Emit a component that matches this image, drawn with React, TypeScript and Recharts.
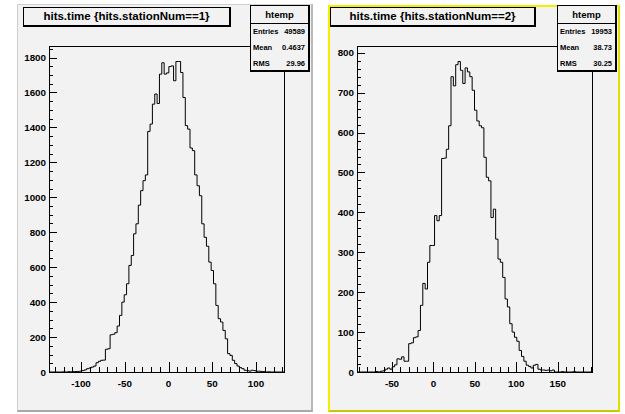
import React from 'react'
import { LineChart, Line, XAxis, YAxis } from 'recharts'

// hits.time, 100 bins each, counts
const station1Counts = [
  0, 0, 0, 0, 0, 0, 1, 0, 2, 1,
  2, 3, 3, 5, 8, 12, 19, 23, 28, 34,
  53, 61, 67, 68, 130, 133, 213, 216, 225, 263,
  324, 400, 442, 505, 610, 667, 791, 848, 955, 1038,
  1095, 1128, 1377, 1419, 1533, 1591, 1537, 1705, 1770, 1705,
  1712, 1748, 1752, 1667, 1777, 1777, 1714, 1571, 1410, 1390,
  1282, 1267, 1128, 1066, 1009, 848, 771, 720, 629, 581,
  505, 381, 305, 286, 238, 190, 105, 95, 67, 48,
  34, 25, 19, 10, 8, 5, 10, 8, 4, 5,
  3, 2, 0, 1, 0, 0, 0, 0, 0, 0,
]

const station2Counts = [
  0, 0, 0, 0, 0, 0, 0, 0, 1, 0,
  2, 3, 7, 10, 7, 13, 18, 33, 32, 38,
  27, 27, 71, 73, 86, 88, 104, 167, 222, 208,
  275, 317, 317, 392, 379, 392, 535, 536, 558, 617,
  740, 717, 770, 778, 756, 723, 762, 752, 740, 706,
  656, 629, 617, 612, 538, 488, 479, 387, 408, 333,
  283, 275, 237, 183, 163, 121, 100, 87, 77, 54,
  39, 27, 17, 14, 10, 17, 19, 7, 5, 5,
  4, 5, 3, 5, 0, 0, 0, 1, 0, 0,
  0, 0, 1, 0, 0, 0, 0, 0, 0, 0,
]

const station1Range = [-136.6, 132.0]
const station2Range = [-92.2, 191.4]

const station1XMajor = [-100, -50, 0, 50, 100]
const station2XMajor = [-50, 0, 50, 100, 150]
const station1YMajor = [0, 200, 400, 600, 800, 1000, 1200, 1400, 1600, 1800]
const station2YMajor = [0, 100, 200, 300, 400, 500, 600, 700, 800]

const FONT = '"Liberation Sans", Arial, Helvetica, sans-serif'

const steps = (from: number, to: number, step: number) => {
  const out: number[] = []
  for (let v = from; v <= to; v += step) out.push(v)
  return out
}

const toSteps = (counts: number[], range: number[]) => {
  const w = (range[1] - range[0]) / counts.length
  const pts = counts.map((c, i) => ({ x: range[0] + i * w, y: c }))
  pts.push({ x: range[1], y: counts[counts.length - 1] })
  return pts
}

const XTick = ({ x, y, payload, majors }: any) => {
  const major = majors.includes(payload.value)
  const px = Math.round(x) + 0.5
  const py = Math.round(y)
  return (
    <g>
      <line x1={px} x2={px} y1={py} y2={py - (major ? 10 : 5)} stroke="#000" strokeWidth={1} />
      {major && (
        <text x={x} y={y + 15} textAnchor="middle" fontSize={9.8} fontWeight="bold" fontFamily={FONT} fill="#000">
          {payload.value}
        </text>
      )}
    </g>
  )
}

const YTick = ({ x, y, payload, majors }: any) => {
  const major = majors.includes(payload.value)
  const px = Math.round(x)
  const py = Math.round(y) + 0.5
  return (
    <g>
      <line x1={px} x2={px + (major ? 8 : 4)} y1={py} y2={py} stroke="#000" strokeWidth={1} />
      {major && (
        <text x={x - 3} y={y} dy="0.36em" textAnchor="end" fontSize={9.8} fontWeight="bold" fontFamily={FONT} fill="#000">
          {payload.value}
        </text>
      )}
    </g>
  )
}

interface PadProps {
  counts: number[]
  range: number[]
  xMajor: number[]
  xMinor: number[]
  yMajor: number[]
  yMinor: number[]
  box: { left: number; top: number; width: number; height: number }
  frame: { left: number; top: number; right: number; bottom: number }
  selected?: boolean
  title: string
  titleBox: { left: number; width: number }
  stats: string[][]
  statsLeft: number
}

function Pad(p: PadProps) {
  const data = toSteps(p.counts, p.range)
  const ymax = Math.max(...p.counts) * 1.05
  const xTicks = Array.from(new Set([...p.xMinor, ...p.xMajor])).sort((a, b) => a - b)
  const yTicks = Array.from(new Set([...p.yMinor, ...p.yMajor]))
    .filter((v) => v <= ymax)
    .sort((a, b) => a - b)

  return (
    <>
      <div
        style={{
          position: 'absolute',
          boxSizing: 'border-box',
          ...p.box,
          background: '#f2f2f2',
          border: p.selected ? '2px solid #f0f000' : '1px solid #cfcfcf',
          borderBottom: p.selected ? '2px solid #c8c800' : '2px solid #a8a8a8',
          borderRight: p.selected ? '2px solid #e0e000' : '2px solid #b8b8b8',
        }}
      />
      {/* axis frame */}
      <div
        style={{
          position: 'absolute',
          boxSizing: 'border-box',
          left: p.box.left + p.frame.left,
          top: p.box.top + p.frame.top,
          width: p.box.width - p.frame.left - p.frame.right + 1,
          height: p.box.height - p.frame.top - p.frame.bottom + 1,
          border: '1px solid #000',
        }}
      />
      <div style={{ position: 'absolute', left: p.box.left, top: p.box.top }}>
        <LineChart
          width={p.box.width}
          height={p.box.height}
          data={data}
          margin={{ top: p.frame.top, right: p.frame.right, bottom: 0, left: 0 }}
        >
          <XAxis
            type="number"
            dataKey="x"
            domain={p.range}
            allowDataOverflow
            ticks={xTicks}
            interval={0}
            tickSize={0}
            tickMargin={0}
            axisLine={false}
            tickLine={false}
            height={p.frame.bottom}
            tick={(t: any) => <XTick {...t} majors={p.xMajor} />}
          />
          <YAxis
            type="number"
            domain={[0, ymax]}
            allowDataOverflow
            ticks={yTicks}
            interval={0}
            tickSize={0}
            tickMargin={0}
            axisLine={false}
            tickLine={false}
            width={p.frame.left}
            tick={(t: any) => <YTick {...t} majors={p.yMajor} />}
          />
          <Line
            type="stepAfter"
            dataKey="y"
            stroke="#000"
            strokeWidth={1}
            dot={false}
            isAnimationActive={false}
          />
        </LineChart>
      </div>
      <div
        style={{
          position: 'absolute',
          left: p.titleBox.left,
          top: 7,
          width: p.titleBox.width,
          height: 20,
          boxSizing: 'border-box',
          background: '#f2f2f2',
          border: '1px solid #000',
          borderRight: '2px solid #000',
          borderBottom: '2px solid #000',
          fontFamily: FONT,
          fontWeight: 'bold',
          fontSize: 11.5,
          lineHeight: '17px',
          textAlign: 'center',
          color: '#000',
        }}
      >
        {p.title}
      </div>
      <div
        style={{
          position: 'absolute',
          left: p.statsLeft,
          top: 5,
          width: 60,
          height: 67,
          boxSizing: 'border-box',
          background: '#f2f2f2',
          border: '1px solid #000',
          borderRight: '2px solid #000',
          borderBottom: '2px solid #000',
          fontFamily: FONT,
          fontWeight: 'bold',
          color: '#000',
        }}
      >
        <div style={{ height: 17, lineHeight: '17px', fontSize: 9.5, textAlign: 'center', borderBottom: '1px solid #000' }}>
          htemp
        </div>
        {p.stats.map(([k, v]) => (
          <div
            key={k}
            style={{
              height: 16,
              lineHeight: '16px',
              fontSize: 7.5,
              display: 'flex',
              justifyContent: 'space-between',
              padding: '0 3px 0 2px',
            }}
          >
            <span>{k}</span>
            <span>{v}</span>
          </div>
        ))}
      </div>
    </>
  )
}

export default function App() {
  return (
    <div
      style={{
        position: 'absolute',
        left: 0,
        top: 0,
        width: 625,
        height: 414,
        background: '#ffffff',
        overflow: 'hidden',
      }}
    >
      <Pad
        counts={station1Counts}
        range={station1Range}
        xMajor={station1XMajor}
        xMinor={steps(-130, 130, 10)}
        yMajor={station1YMajor}
        yMinor={steps(0, 1850, 50)}
        box={{ left: 17, top: 4, width: 296, height: 408 }}
        frame={{ left: 32, top: 42, right: 29, bottom: 40 }}
        title="hits.time {hits.stationNum==1}"
        titleBox={{ left: 23, width: 208 }}
        stats={[
          ['Entries', '49589'],
          ['Mean', '0.4637'],
          ['RMS', '29.96'],
        ]}
        statsLeft={250}
      />
      <Pad
        counts={station2Counts}
        range={station2Range}
        xMajor={station2XMajor}
        xMinor={steps(-90, 190, 10)}
        yMajor={station2YMajor}
        yMinor={steps(0, 800, 20)}
        box={{ left: 328, top: 5, width: 292, height: 407 }}
        frame={{ left: 29, top: 41, right: 28, bottom: 40 }}
        selected
        title="hits.time {hits.stationNum==2}"
        titleBox={{ left: 330, width: 206 }}
        stats={[
          ['Entries', '19953'],
          ['Mean', '38.73'],
          ['RMS', '30.25'],
        ]}
        statsLeft={557}
      />
    </div>
  )
}
